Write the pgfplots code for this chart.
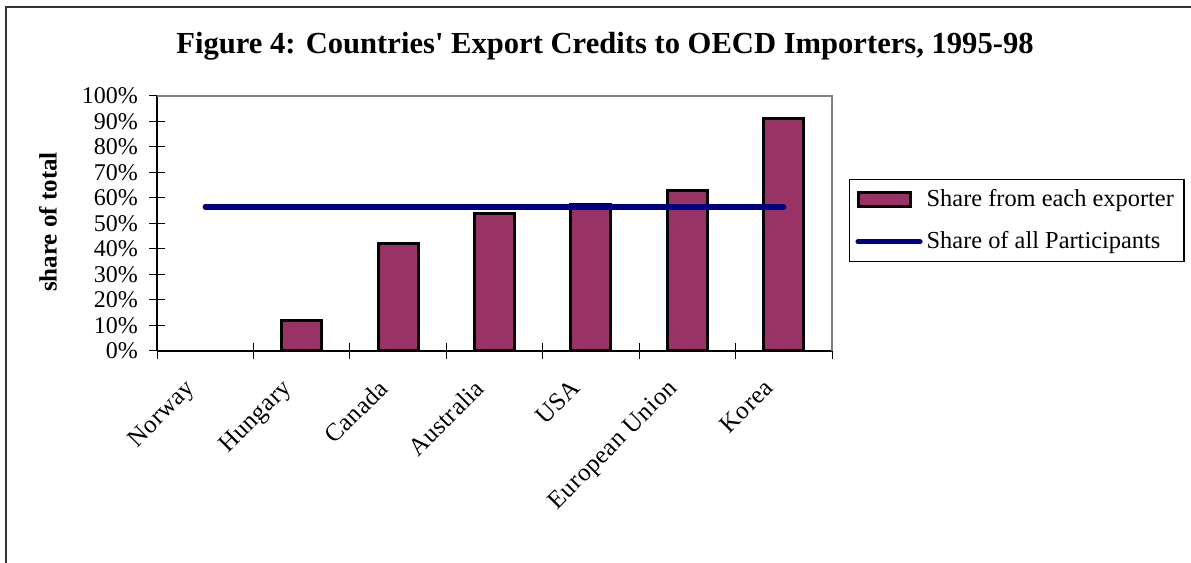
\documentclass[border=0pt]{standalone}
\usepackage{pgfplots}
\pgfplotsset{compat=1.18}
\usepackage{fontspec}
\setmainfont{Liberation Serif}
\definecolor{plum}{RGB}{153,51,102}
\definecolor{navyline}{RGB}{0,0,128}
\begin{document}
\begin{tikzpicture}
\path[use as bounding box] (0,0) rectangle (595.5bp,281.5bp);
\draw[line width=1bp, black!80] (3bp,0) -- (3bp,278bp) -- (595.5bp,278bp);
\begin{axis}[
  at={(78.5bp,106bp)}, anchor=south west,
  scale only axis, width=337.5bp, height=127.5bp,
  xmin=-0.5, xmax=6.5, ymin=0, ymax=100,
  axis x line*=bottom, axis y line*=left,
  axis line style={line width=0.6bp, black},
  xtick={0,...,6},
  xticklabels={Norway,Hungary,Canada,Australia,USA,European Union,Korea},
  major x tick style={draw=none},
  minor xtick={-0.5,0.5,1.5,2.5,3.5,4.5,5.5,6.5},
  minor x tick style={black, line width=0.5bp},
  minor tick length=8bp,
  ytick={0,10,...,100},
  yticklabel={\pgfmathprintnumber{\tick}\%},
  ytick style={black, line width=0.5bp},
  major tick length=8bp,
  tick align=center,
  /pgf/number format/assume math mode=true,
  ticklabel style={font=\fontsize{12bp}{14bp}\selectfont},
  yticklabel style={xshift=-2bp},
  xticklabel style={xshift=-10.5bp, yshift=-4.5bp, rotate=45, anchor=north east, font=\fontsize{12.5bp}{14bp}\selectfont\addfontfeature{LetterSpace=2}},
  ylabel={share of total},
  ylabel style={font=\bfseries\fontsize{12.5bp}{14bp}\selectfont, at={(axis description cs:-0.1615,0.506)}, anchor=center},
  title={Figure 4: Countries\textquotesingle\ Export Credits to OECD Importers, 1995-98},
  title style={font=\bfseries\fontsize{15.3bp}{17bp}\selectfont, at={(axis description cs:0.6637,1.149)}, anchor=center},
  legend style={at={(axis description cs:1.025,0.6745)}, anchor=north west,
    draw=black, line width=0.6bp, font=\fontsize{12.2bp}{14bp}\selectfont,
    row sep=7bp, inner sep=3bp, cells={anchor=west}},
  after end axis/.code={
    \draw[black!50, line width=0.8bp] (rel axis cs:0,1) -- (rel axis cs:1,1) -- (rel axis cs:1,0);
  },
  clip=false,
]
\addplot[ybar, bar width=0.415, fill=plum, draw=black, line width=1.5bp,
  legend image code/.code={\draw[fill=plum, draw=black, line width=1.5bp] (0bp,-3.5bp) rectangle (26bp,3.5bp);}]
  coordinates {(1,12) (2,42) (3,54) (4,57.5) (5,63) (6,91)};
\addlegendentry{Share from each exporter}
\addplot[navyline, line width=2.6bp, line cap=round, mark=none,
  legend image code/.code={\draw[navyline, line width=2.6bp, line cap=round] (0bp,0bp) -- (31bp,0bp);}]
  coordinates {(0,56.5) (1,56.5) (2,56.5) (3,56.5) (4,56.5) (5,56.5) (6,56.5)};
\addlegendentry{Share of all Participants}
\end{axis}
\end{tikzpicture}
\end{document}
